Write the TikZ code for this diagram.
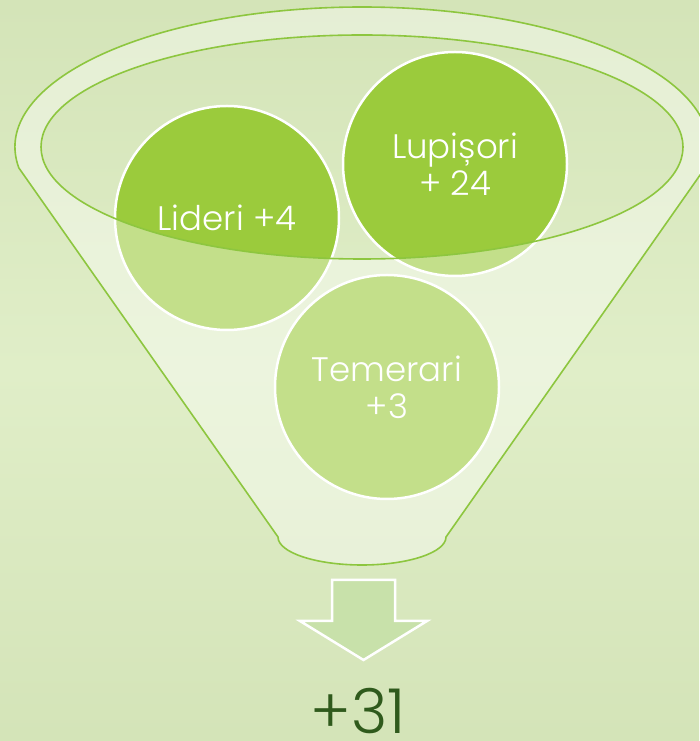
\documentclass[tikz,border=0pt]{standalone}
\usepackage{fontspec}
\IfFontExistsTF{Poppins Light}{\setmainfont{Poppins Light}}{\setmainfont{Poppins}}
\definecolor{bgdark}{HTML}{C8DAA8}
\definecolor{bglight}{HTML}{E0EEC8}
\definecolor{bubblegreen}{HTML}{9BCB3C}
\definecolor{linegreen}{HTML}{8DC63F}
\definecolor{arrowgreen}{HTML}{C8E1AA}
\definecolor{totalgreen}{HTML}{2F5A1C}
\begin{document}
\begin{tikzpicture}[x=1pt,y=1pt,
  bubble/.style={circle,minimum size=224pt,inner sep=0pt,fill=bubblegreen,draw=white,line width=2.5pt},
  bubbletext/.style={text=white,font=\fontsize{34}{37}\selectfont,align=center,inner sep=0pt},
  funnelline/.style={draw=linegreen,line width=1.6pt},
  funnelfill/.style={fill=white,fill opacity=0.4,even odd rule},
  arrowbox/.style={fill=arrowgreen,draw=white,line width=2.5pt,line join=miter},
]
\useasboundingbox (0,0) rectangle (699,741);
\begin{scope}
\clip (0,0) rectangle (699,741);
\shade[top color=bgdark,bottom color=bgdark,middle color=bglight,rotate around={45:(349.5,370.5)}]
  (-160,-160) rectangle (859,901);
\end{scope}
% circles
\node[bubble] (lid) at (227,523) {};
\node[bubble] (lup) at (455,577) {};
\node[bubble] (tem) at (387,354) {};
% funnel
\path[funnelfill] (18.9,573) arc[start angle=188.63,end angle=-8.63,x radius=347,y radius=140]
  -- (446,204) arc[start angle=0,end angle=-180,x radius=84,y radius=28] -- cycle
  (362,594) ellipse[x radius=321,y radius=112];
\draw[funnelline] (18.9,573) arc[start angle=188.63,end angle=-8.63,x radius=347,y radius=140]
  -- (446,204) arc[start angle=0,end angle=-180,x radius=84,y radius=28] -- cycle;
\draw[funnelline] (362,594) ellipse[x radius=321,y radius=112];
% texts
\node[bubbletext] (lidT) at (lid.center) {Lideri +4};
\node[bubbletext] (lupT) at (lup.center) {Lupișori\\+ 24};
\node[bubbletext] (temT) at (tem.center) {Temerari\\+3};
% arrow
\path[arrowbox] (332,161) -- (395,161) -- (395,120) -- (427,120) -- (363.5,81) -- (300,120) -- (332,120) -- cycle;
\node[text=totalgreen,font=\fontsize{62}{62}\selectfont,anchor=base,inner sep=0pt] (total) at (358,7) {+31};
\end{tikzpicture}
\end{document}
